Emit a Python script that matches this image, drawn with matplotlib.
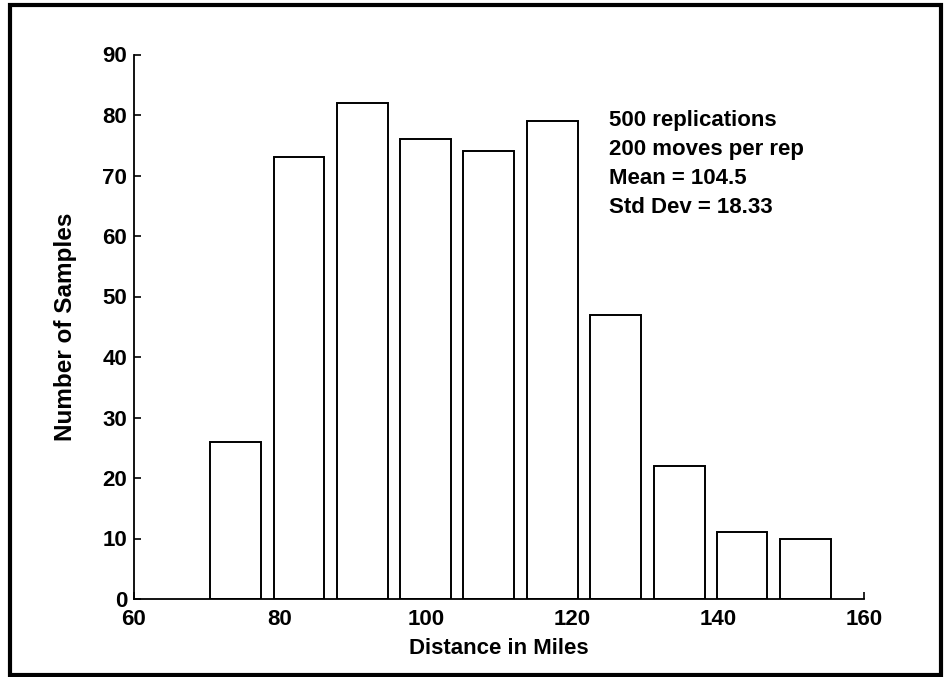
import matplotlib
matplotlib.use("Agg")
import matplotlib.pyplot as plt
from matplotlib.patches import Rectangle

bin_centers = [73.9, 82.6, 91.3, 99.9, 108.6, 117.3, 126.0, 134.7, 143.3, 152.0]
counts = [26, 73, 82, 76, 74, 79, 47, 22, 11, 10]
x_ticks = [60, 80, 100, 120, 140, 160]
y_ticks = [0, 10, 20, 30, 40, 50, 60, 70, 80, 90]
annotation = ["500 replications", "200 moves per rep", "Mean = 104.5", "Std Dev = 18.33"]

plt.rcParams['font.family'] = ['Liberation Sans', 'DejaVu Sans']

fig = plt.figure(figsize=(9.45, 6.77), dpi=100)
ax = fig.add_axes([134/945, 1 - 599/677, (864 - 134)/945, 544.5/677])

spacing = bin_centers[1] - bin_centers[0]
ax.bar(bin_centers, counts, width=0.8 * spacing, facecolor='white',
       edgecolor='black', linewidth=1.4, zorder=2)

ax.set_xlim(60, 160)
ax.set_ylim(0, 90)
ax.set_xticks(x_ticks)
ax.set_yticks(y_ticks)
for s in ['top', 'right']:
    ax.spines[s].set_visible(False)
for s in ['left', 'bottom']:
    ax.spines[s].set_linewidth(1.3)
ax.tick_params(direction='in', length=5, width=1.2, labelsize=16)
ax.tick_params(axis='x', pad=7)
ax.tick_params(axis='y', pad=5)
for lab in ax.get_xticklabels() + ax.get_yticklabels():
    lab.set_fontweight('bold')
ax.set_xlabel("Distance in Miles", fontsize=16, fontweight='bold', labelpad=6)
ax.set_ylabel("Number of Samples", fontsize=17.5, fontweight='bold', labelpad=18)

ax.text(125.1, 80.8, "\n".join(annotation), fontsize=16, fontweight='bold',
        va='top', ha='left', linespacing=1.5)

fig.patches.append(Rectangle((10/945, 2/677), 931/945, 670/677, transform=fig.transFigure,
                             fill=False, edgecolor='black', linewidth=3.0))

fig.savefig("out.png", dpi=100)
